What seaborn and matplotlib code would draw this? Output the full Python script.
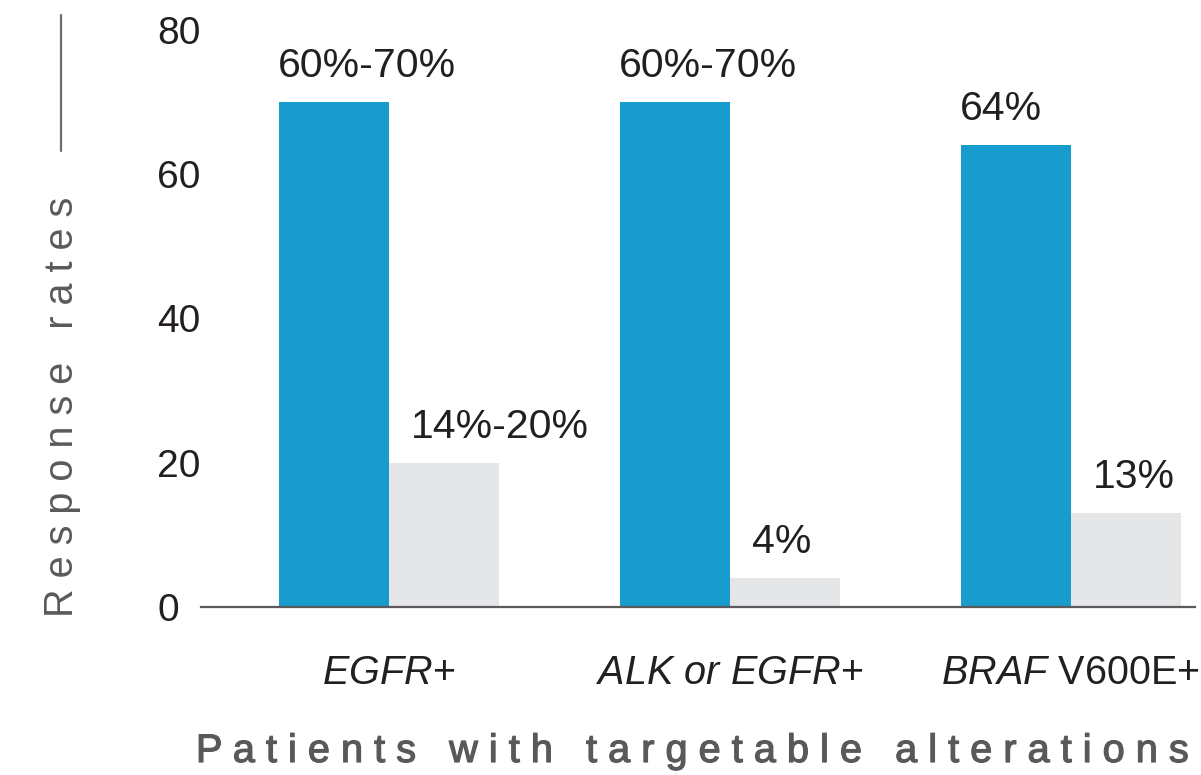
import matplotlib
matplotlib.use("Agg")
import matplotlib.pyplot as plt
from matplotlib.lines import Line2D
import matplotlib.patheffects as pe
import seaborn as sns
import pandas as pd

# Data
categories = ["EGFR+", "ALK or EGFR+", "BRAF V600E+"]
tick_labels = [r"$\mathit{EGFR}$+", r"$\mathit{ALK\ or\ EGFR}$+", r"$\mathit{BRAF}$ V600E+"]
series = ["Targeted therapy", "Chemotherapy"]
targeted_values = [70, 70, 64]
chemo_values = [20, 4, 13]
targeted_labels = ["60%-70%", "60%-70%", "64%"]
chemo_labels = ["14%-20%", "4%", "13%"]

df = pd.DataFrame({
    "category": categories * 2,
    "series": [series[0]] * 3 + [series[1]] * 3,
    "value": targeted_values + chemo_values,
})

sns.set_theme(style="white")
plt.rcParams["font.family"] = ["Liberation Sans", "DejaVu Sans"]
plt.rcParams["mathtext.fontset"] = "custom"
plt.rcParams["mathtext.rm"] = "Liberation Sans"
plt.rcParams["mathtext.it"] = "Liberation Sans:italic"

BLUE = "#189CCE"
GREY = "#E5E6E8"
TEXT = "#231F20"
AXIS_GREY = "#5B5B5D"

fig = plt.figure(figsize=(12.01, 7.75), dpi=100)
ax = fig.add_axes([0.1674, 0.2168, 0.995 - 0.1674, 0.9613 - 0.2168])

sns.barplot(data=df, x="category", y="value", hue="series", order=categories,
            hue_order=series, palette=[BLUE, GREY], width=0.645, saturation=1,
            legend=False, ax=ax, errorbar=None, linewidth=0, edgecolor="none")

ax.set_ylim(0, 80)
ax.set_xlim(-0.551, 2.364)
ax.set_yticks([0, 20, 40, 60, 80])

for s in ["top", "right", "left"]:
    ax.spines[s].set_visible(False)
ax.spines["bottom"].set_color(AXIS_GREY)
ax.spines["bottom"].set_linewidth(1.6)

ax.tick_params(axis="y", length=0, pad=31.5, labelsize=28, labelcolor=TEXT)
for lab in ax.get_yticklabels():
    lab.set_horizontalalignment("left")
ax.tick_params(axis="x", length=0, pad=34, labelsize=28.5, labelcolor=TEXT)
ax.set_xticks(range(len(categories)))
ax.set_xticklabels(tick_labels)

ax.set_xlabel("")
ax.set_ylabel("")

# Value labels above bars
containers = ax.containers
for bar, txt in zip(containers[0], targeted_labels):
    ax.annotate(txt, (bar.get_x(), bar.get_height()), xytext=(-1, 18),
                textcoords="offset points", ha="left", va="baseline",
                fontsize=29.5, color=TEXT)
for bar, txt in zip(containers[1], chemo_labels):
    ax.annotate(txt, (bar.get_x(), bar.get_height()), xytext=(16, 18),
                textcoords="offset points", ha="left", va="baseline",
                fontsize=29.5, color=TEXT)

# Letter-spaced axis titles
def spaced(text):
    return "   ".join(" ".join(word) for word in text.split())

fig.text(0.0516, 0.475, spaced("Response rates"), rotation=90, ha="center",
         va="center", fontsize=28.5, color="#5A5A5C")
fig.text(0.576, 0.031, spaced("Patients with targetable alterations"),
         ha="center", va="center", fontsize=28.6, color="#58595B",
         path_effects=[pe.withStroke(linewidth=0.9, foreground="#58595B")])

# Rule above the y-axis title
fig.add_artist(Line2D([0.0508, 0.0508], [1 - 15 / 775, 1 - 151 / 775],
                      transform=fig.transFigure, color="#6D6D6F", linewidth=1.6))

fig.savefig("out.png", dpi=100)
